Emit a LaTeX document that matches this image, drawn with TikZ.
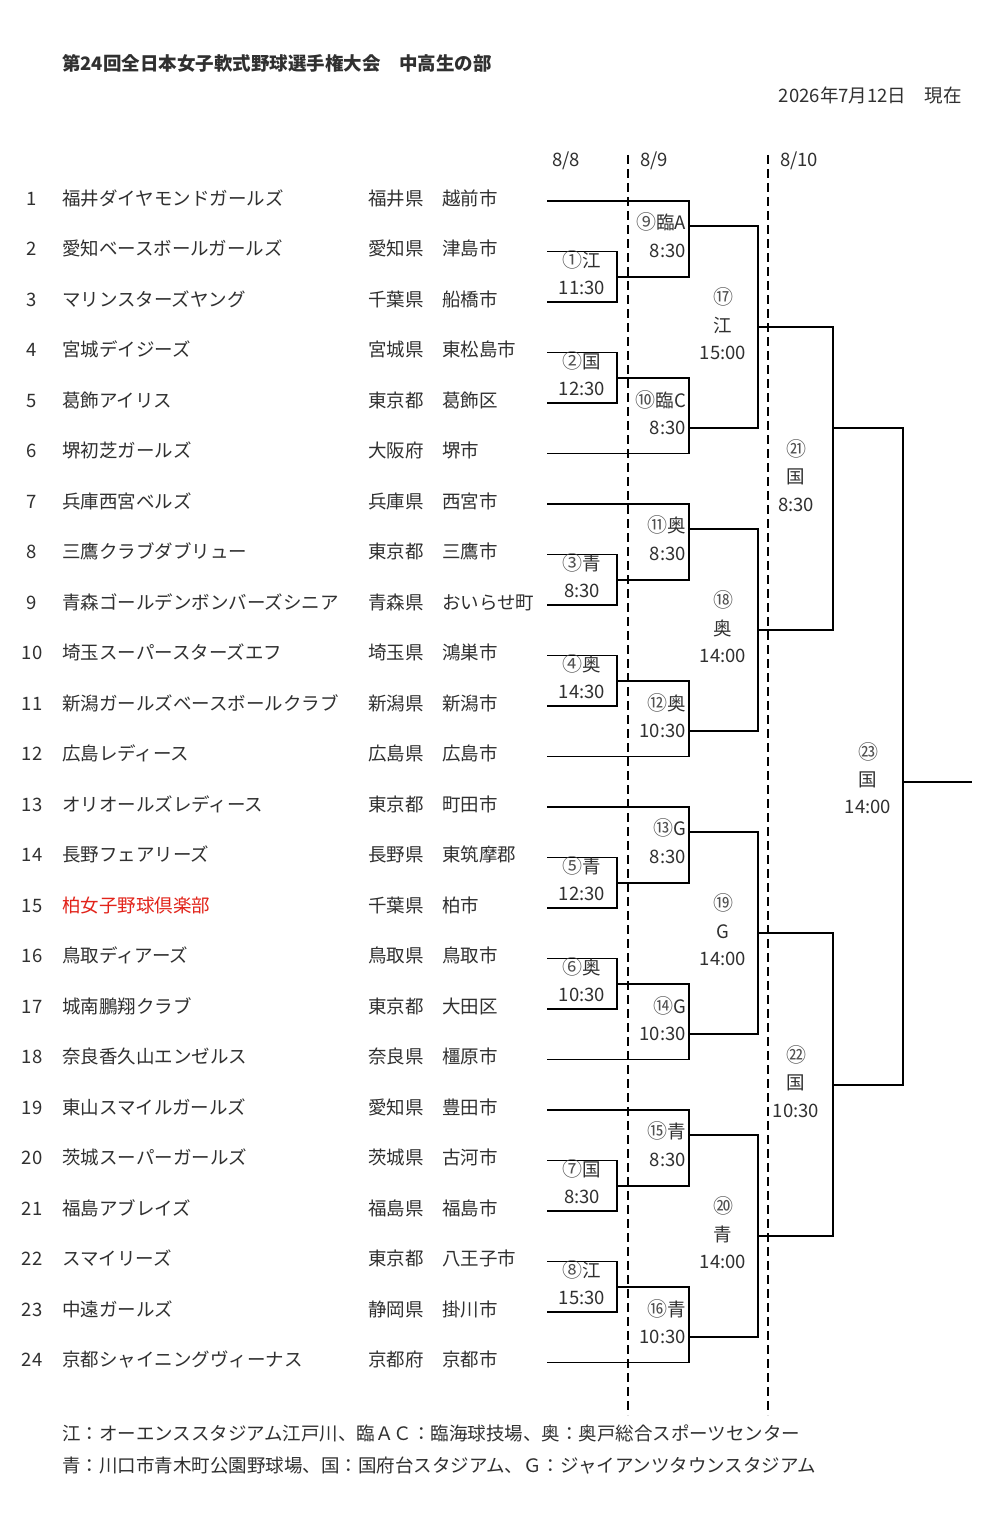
\documentclass[tikz,border=0pt]{standalone}
\usepackage{fontspec}
\setmainfont{Noto Sans CJK JP}
\usetikzlibrary{calc}
\definecolor{txt}{HTML}{303030}
\definecolor{circ}{HTML}{505050}
\definecolor{teamred}{HTML}{E2231A}
\newcommand{\cn}[1]{{\fontsize{20}{20}\selectfont\color{circ}#1}}
\begin{document}
\begin{tikzpicture}[x=1pt,y=-1pt,
  every node/.style={inner sep=0pt, text=txt, font=\fontsize{18.5}{18.5}\selectfont, text height=16.3pt, text depth=2.2pt},
  ln/.style={line width=1.8pt, black},
  dsh/.style={line width=2.4pt, black, dash pattern=on 9pt off 5pt},
  lft/.style={anchor=west},
  rgt/.style={anchor=east},
  lab/.style={anchor=center}]
\fill[white] (0,0) rectangle (1003,1525);
\useasboundingbox (0,0) rectangle (1003,1525);

% header
\node[lft,font=\fontsize{18.5}{18.5}\selectfont\bfseries] (title) at (62,63) {第24回全日本女子軟式野球選手権大会　中高生の部};
\node[rgt] (date) at (962,95) {2026年7月12日　現在};
\node[lab] (d88) at (566,159) {8/8};
\node[lft] (d89) at (640,159) {8/9};
\node[lft] (d810) at (780,159) {8/10};

% dashed day separators
\coordinate (sa1) at (628,155); \coordinate (sa2) at (628,1415);
\coordinate (sb1) at (768,155); \coordinate (sb2) at (768,1415);
\draw[dsh] (sa1) -- (sa2);
\draw[dsh] (sb1) -- (sb2);

% teams
\foreach \nm/\pf/\ct [count=\k] in {
 福井ダイヤモンドガールズ/福井県/越前市,
 愛知ベースボールガールズ/愛知県/津島市,
 マリンスターズヤング/千葉県/船橋市,
 宮城デイジーズ/宮城県/東松島市,
 葛飾アイリス/東京都/葛飾区,
 堺初芝ガールズ/大阪府/堺市,
 兵庫西宮ベルズ/兵庫県/西宮市,
 三鷹クラブダブリュー/東京都/三鷹市,
 青森ゴールデンボンバーズシニア/青森県/おいらせ町,
 埼玉スーパースターズエフ/埼玉県/鴻巣市,
 新潟ガールズベースボールクラブ/新潟県/新潟市,
 広島レディース/広島県/広島市,
 オリオールズレディース/東京都/町田市,
 長野フェアリーズ/長野県/東筑摩郡,
 柏女子野球倶楽部/千葉県/柏市,
 鳥取ディアーズ/鳥取県/鳥取市,
 城南鵬翔クラブ/東京都/大田区,
 奈良香久山エンゼルス/奈良県/橿原市,
 東山スマイルガールズ/愛知県/豊田市,
 茨城スーパーガールズ/茨城県/古河市,
 福島アブレイズ/福島県/福島市,
 スマイリーズ/東京都/八王子市,
 中遠ガールズ/静岡県/掛川市,
 京都シャイニングヴィーナス/京都府/京都市} {
  \pgfmathsetmacro\yy{198+(\k-1)*50.5}
  \pgfmathsetmacro\yl{201+(\k-1)*50.5}
  \ifnum\k=15 \def\tc{teamred}\else\def\tc{txt}\fi
  \node[lab] (num\k) at (32,\yy) {\k};
  \node[lft,text=\tc] (name\k) at (62,\yy) {\nm};
  \node[lft] (pref\k) at (368,\yy) {\pf};
  \node[lft] (city\k) at (442,\yy) {\ct};
  \coordinate (t\k) at (547,\yl);
}

% bracket blocks of six teams
\foreach \b in {0,1,2,3} {
  \pgfmathtruncatemacro\ka{6*\b+1}
  \pgfmathtruncatemacro\kb{6*\b+2}
  \pgfmathtruncatemacro\kc{6*\b+3}
  \pgfmathtruncatemacro\kd{6*\b+4}
  \pgfmathtruncatemacro\ke{6*\b+5}
  \pgfmathtruncatemacro\kf{6*\b+6}
  \pgfmathsetmacro\ya{201+(\ka-1)*50.5}
  \pgfmathsetmacro\yb{201+(\kb-1)*50.5}
  \pgfmathsetmacro\yc{201+(\kc-1)*50.5}
  \pgfmathsetmacro\yd{201+(\kd-1)*50.5}
  \pgfmathsetmacro\ye{201+(\ke-1)*50.5}
  \pgfmathsetmacro\yf{201+(\kf-1)*50.5}
  \coordinate (p\b) at (617,{(\yb+\yc)/2});
  \coordinate (q\b) at (617,{(\yd+\ye)/2});
  \coordinate (u\b) at (689,{(\ya+\yb)/2});
  \coordinate (v\b) at (689,{(\ye+\yf)/2});
  \coordinate (w\b) at (758,{(\ya+\yb+\ye+\yf)/4});
  \draw[ln] (t\kb) -| (p\b) |- (t\kc);
  \draw[ln] (t\kd) -| (q\b) |- (t\ke);
  \draw[ln] (t\ka) -| (u\b) |- (p\b);
  \draw[ln] (q\b) -| (v\b) |- (t\kf);
  \draw[ln] (u\b) -| (w\b) |- (v\b);
}

% later rounds
\coordinate (sfa) at (833,428);
\coordinate (sfb) at (833,1085);
\coordinate (fin) at (903,782);
\coordinate (champ) at (972,782);
\draw[ln] (w0) -| (sfa) |- (w1);
\draw[ln] (w2) -| (sfb) |- (w3);
\draw[ln] (sfa) -| (fin) |- (sfb);
\draw[ln] (fin) -- (champ);

% round 1 labels
\foreach \c/\m/\v/\tm [count=\i] in {p/0/\cn{①}江/11:30, q/0/\cn{②}国/12:30, p/1/\cn{③}青/8:30, q/1/\cn{④}奥/14:30,
  p/2/\cn{⑤}青/12:30, q/2/\cn{⑥}奥/10:30, p/3/\cn{⑦}国/8:30, q/3/\cn{⑧}江/15:30} {
  \node[lab] (ra\i) at ($(\c\m)+(-35,-16)$) {\v};
  \node[lab] (rt\i) at ($(\c\m)+(-35,11)$) {\tm};
}
% round 2 labels
\foreach \m/\v/\tm [count=\i from 9] in {0/\cn{⑨}臨A/8:30, 1/\cn{⑪}奥/8:30, 2/\cn{⑬}G/8:30, 3/\cn{⑮}青/8:30} {
  \node[rgt] (ra\i) at ($(u\m)+(-3,-4)$) {\v};
  \node[rgt] (rt\i) at ($(u\m)+(-3,24)$) {\tm};
}
\foreach \m/\v/\tm [count=\i from 13] in {0/\cn{⑩}臨C/8:30, 1/\cn{⑫}奥/10:30, 2/\cn{⑭}G/10:30, 3/\cn{⑯}青/10:30} {
  \node[rgt] (ra\i) at ($(v\m)+(-3,-28)$) {\v};
  \node[rgt] (rt\i) at ($(v\m)+(-3,-1)$) {\tm};
}
% round 3 labels
\foreach \m/\n/\v/\tm in {0/⑰/江/15:00, 1/⑱/奥/14:00, 2/⑲/G/14:00, 3/⑳/青/14:00} {
  \node[lab] (rn\m) at ($(w\m)+(-35,-30)$) {\cn{\n}};
  \node[lab] (rv\m) at ($(w\m)+(-35,-2)$) {\v};
  \node[lab] (rtt\m) at ($(w\m)+(-35,25)$) {\tm};
}
% semifinals and final
\node[lab] (sn1) at ($(sfa)+(-37,21)$) {\cn{㉑}};
\node[lab] (sv1) at ($(sfa)+(-37,48)$) {国};
\node[lab] (st1) at ($(sfa)+(-37,76)$) {8:30};
\node[lab] (sn2) at ($(sfb)+(-37,-30)$) {\cn{㉒}};
\node[lab] (sv2) at ($(sfb)+(-37,-3)$) {国};
\node[lab] (st2) at ($(sfb)+(-37,25)$) {10:30};
\node[lab] (fn) at ($(fin)+(-35,-30)$) {\cn{㉓}};
\node[lab] (fv) at ($(fin)+(-35,-3)$) {国};
\node[lab] (ft) at ($(fin)+(-35,24)$) {14:00};

% legend
\node[lft] (leg1) at (62,1433) {江：オーエンススタジアム江戸川、臨ＡＣ：臨海球技場、奥：奥戸総合スポーツセンター};
\node[lft] (leg2) at (62,1465) {青：川口市青木町公園野球場、国：国府台スタジアム、Ｇ：ジャイアンツタウンスタジアム};
\end{tikzpicture}
\end{document}
